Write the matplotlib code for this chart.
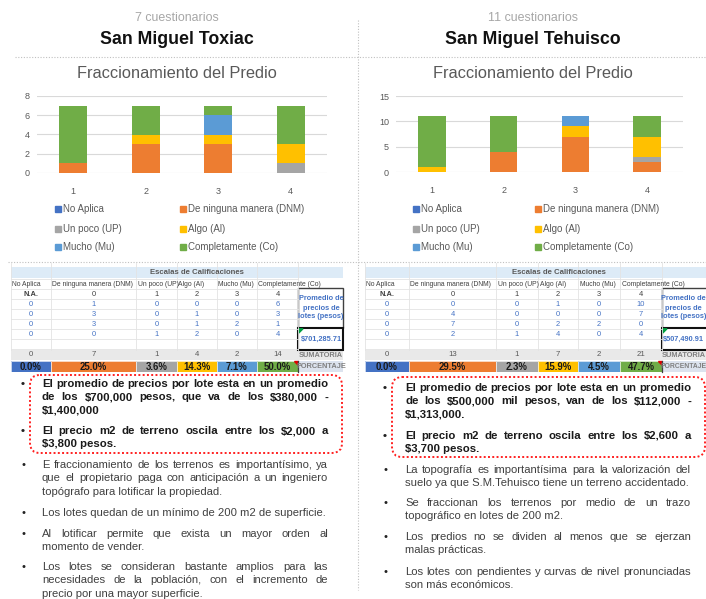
import matplotlib
matplotlib.use('Agg')
import matplotlib.pyplot as plt
from matplotlib.patches import Rectangle, FancyBboxPatch, Polygon
from matplotlib.font_manager import FontProperties
from matplotlib.lines import Line2D

# ---------------- DATA ----------------
questions = ['1', '2', '3', '4']
category_labels = ['No Aplica', 'De ninguna manera (DNM)', 'Un poco (UP)',
                   'Algo (Al)', 'Mucho (Mu)', 'Completamente (Co)']
scale_labels = ['N.A.', '0', '1', '2', '3', '4']
colors = ['#4472C4', '#ED7D31', '#A5A5A5', '#FFC000', '#5B9BD5', '#70AD47']

toxiac_na = [0, 0, 0, 0]
toxiac_dnm = [1, 3, 3, 0]
toxiac_up = [0, 0, 0, 1]
toxiac_al = [0, 1, 1, 2]
toxiac_mu = [0, 0, 2, 0]
toxiac_co = [6, 3, 1, 4]

tehuisco_na = [0, 0, 0, 0]
tehuisco_dnm = [0, 4, 7, 2]
tehuisco_up = [0, 0, 0, 1]
tehuisco_al = [1, 0, 2, 4]
tehuisco_mu = [0, 0, 2, 0]
tehuisco_co = [10, 7, 0, 4]

toxiac_price = '$701,285.71'
tehuisco_price = '$507,490.91'
toxiac_n = '7 cuestionarios'
tehuisco_n = '11 cuestionarios'
toxiac_name = 'San Miguel Toxiac'
tehuisco_name = 'San Miguel Tehuisco'
chart_title = 'Fraccionamiento del Predio'

toxiac_bold = [
    ["El promedio de precios por lote esta en un promedio",
     "de los $700,000 pesos, que va de los $380,000 -",
     "$1,400,000"],
    ["El precio m2 de terreno oscila entre los $2,000 a",
     "$3,800 pesos."],
]
toxiac_normal = [
    ["E fraccionamiento de los terrenos es importantísimo, ya",
     "que el propietario paga con anticipación a un ingeniero",
     "topógrafo para lotificar la propiedad."],
    ["Los lotes quedan de un mínimo de 200 m2 de superficie."],
    ["Al lotificar permite que exista un mayor orden al",
     "momento de vender."],
    ["Los lotes se consideran bastante amplios para las",
     "necesidades de la población, con el incremento de",
     "precio por una mayor superficie."],
]
tehuisco_bold = [
    ["El promedio de precios por lote esta en un promedio",
     "de los $500,000 mil pesos, van de los $112,000 -",
     "$1,313,000."],
    ["El precio m2 de terreno oscila entre los $2,600 a",
     "$3,700 pesos."],
]
tehuisco_normal = [
    ["La topografía es importantísima para la valorización del",
     "suelo ya que S.M.Tehuisco tiene un terreno accidentado."],
    ["Se fraccionan los terrenos por medio de un trazo",
     "topográfico en lotes de 200 m2."],
    ["Los predios no se dividen al menos que se ejerzan",
     "malas prácticas."],
    ["Los lotes con pendientes y curvas de nivel pronunciadas",
     "son más económicos."],
]

# ---------------- FIGURE ----------------
W, H = 706, 599
FONT = 'Liberation Sans'
plt.rcParams['font.family'] = [FONT, 'DejaVu Sans']
fig = plt.figure(figsize=(W / 100, H / 100), dpi=100)
fig.patch.set_facecolor('white')
ov = fig.add_axes([0, 0, 1, 1])
ov.set_xlim(0, W)
ov.set_ylim(H, 0)
ov.axis('off')
renderer = fig.canvas.get_renderer()

GRAY = '#595959'


def T(x, y, s, size, color=GRAY, weight='normal', ha='center', va='center', **kw):
    return ov.text(x, y, s, fontsize=size, color=color, fontweight=weight,
                   ha=ha, va=va, parse_math=False, family=FONT, **kw)


# dotted separators
dots = dict(color='#c0c0c0', lw=0.8, linestyle=(0, (1, 1.5)))
ov.add_line(Line2D([15, 706], [57, 57], **dots))
ov.add_line(Line2D([8, 706], [262, 262], **dots))
ov.add_line(Line2D([358, 358], [20, 590], **dots))


def chart(px0, px1, py0, py1, ymax, ystep, series, cx, n_text, name):
    T(cx, 18, n_text, 8.9, color='#a6a6a6')
    T(cx, 40, name, 12.8, color='#111111', weight='bold')
    T(cx, 74, chart_title, 11.8, color=GRAY)
    ax = fig.add_axes([px0 / W, (H - py1) / H, (px1 - px0) / W, (py1 - py0) / H])
    ax.set_facecolor('none')
    x = list(range(1, len(questions) + 1))
    bottom = [0] * len(questions)
    for vals, c in zip(series, colors):
        ax.bar(x, vals, bottom=bottom, width=0.38, color=c, zorder=3)
        bottom = [b + v for b, v in zip(bottom, vals)]
    ax.set_xlim(0.5, len(questions) + 0.5)
    ax.set_ylim(0, ymax)
    ax.set_yticks(range(0, ymax + 1, ystep))
    ax.set_xticks(x)
    ax.set_xticklabels(questions)
    ax.grid(axis='y', color='#d9d9d9', lw=0.8, zorder=0)
    for s in ax.spines.values():
        s.set_visible(False)
    ax.tick_params(length=0, labelsize=6.5, labelcolor=GRAY)
    ax.tick_params(axis='y', pad=5)
    ax.tick_params(axis='x', pad=10)


def legend(xcol1, xcol2):
    pos = [(xcol1, 209), (xcol2, 209), (xcol1, 228.5), (xcol2, 228.5),
           (xcol1, 247), (xcol2, 247)]
    for (lx, ly), lab, c in zip(pos, category_labels, colors):
        ov.add_patch(Rectangle((lx, ly - 3), 6, 6, color=c))
        T(lx + 8, ly, lab, 7.0, ha='left', color=GRAY)


chart(37, 327, 96, 173, 8, 2,
      [toxiac_na, toxiac_dnm, toxiac_up, toxiac_al, toxiac_mu, toxiac_co],
      177, toxiac_n, toxiac_name)
legend(55, 180)
chart(396, 683, 96, 172, 15, 5,
      [tehuisco_na, tehuisco_dnm, tehuisco_up, tehuisco_al, tehuisco_mu, tehuisco_co],
      533, tehuisco_n, tehuisco_name)
legend(413, 535)


def table(cols, side, series, price, scx, pct_size):
    x0, x1 = cols[0], cols[-1]
    s0, s1 = side
    # header band
    ov.add_patch(Rectangle((x0, 267), s1 - x0, 11, color='#DDEBF7', lw=0))
    T((cols[1] + s1) / 2, 272.5, 'Escalas de Calificaciones', 5.6, weight='bold')
    # grid lines
    for y in [279, 289, 299, 309, 319, 329, 339, 349]:
        ov.add_line(Line2D([x0, x1], [y, y], color='#e3e3e3', lw=0.6))
    for xb in cols:
        ov.add_line(Line2D([xb, xb], [263, 350], color='#e3e3e3', lw=0.6))
    # column headers
    for i, lab in enumerate(category_labels):
        t = T(cols[i] + 1.5, 284, lab, 4.9, color='#404040', ha='left')
        if i < len(category_labels) - 1:
            clip = Rectangle((cols[i], 279), cols[i + 1] - cols[i] - 0.5, 10,
                             transform=ov.transData)
            t.set_clip_path(clip)
    # scale row
    for i, lab in enumerate(scale_labels):
        cxm = (cols[i] + cols[i + 1]) / 2
        T(cxm, 294, lab, 5.4, color='#404040', weight='bold' if i == 0 else 'normal')
    # data rows
    for q in range(len(questions)):
        for i, vals in enumerate(series):
            cxm = (cols[i] + cols[i + 1]) / 2
            T(cxm, 304 + 10 * q, str(vals[q]), 5.4, color='#4472C4')
    # sums
    sums = [sum(v) for v in series]
    total = sum(sums)
    ov.add_patch(Rectangle((x0, 350), s1 - x0, 10, color='#E9E9E9', lw=0))
    for i, sv in enumerate(sums):
        cxm = (cols[i] + cols[i + 1]) / 2
        T(cxm, 355, str(sv), 5.6, color='#595959')
    T(scx, 355.5, 'SUMATORIA', 5.3, color='#7f7f7f', weight='bold')
    # percentages
    for i, sv in enumerate(sums):
        ov.add_patch(Rectangle((cols[i], 360.5), cols[i + 1] - cols[i], 11.5,
                               color=colors[i], lw=0))
        ov.add_patch(Rectangle((cols[i], 360.5), cols[i + 1] - cols[i], 11.5,
                               fc='none', ec='white', lw=0.5))
        T((cols[i] + cols[i + 1]) / 2, 366.5, f'{100 * sv / total:.1f}%', 6.9,
          color='#1a1a1a', weight='bold')
    ov.add_patch(Polygon([(x1 - 4.5, 360.5), (x1, 360.5), (x1, 365)], color='#e00000'))
    ov.add_patch(Rectangle((s0, 360.5), s1 - s0, 11.5, color='#DCE3EE', lw=0))
    ov.add_line(Line2D([s0, s0], [360.5, 372], color='#404040', lw=0.9))
    T(scx, 366.5, 'PORCENTAJE', pct_size, color='#7f7f7f', weight='bold')
    # side boxes
    ov.add_patch(Rectangle((s0, 288), s1 - s0, 40, fc='white', ec='#404040', lw=1.0))
    for k, ln in enumerate(['Promedio de', 'precios de', 'lotes (pesos)']):
        T(scx, 299 + 9 * k, ln, 5.3, color='#4472C4', weight='bold')
    ov.add_patch(Rectangle((s0, 328), s1 - s0, 22, fc='white', ec='#111111', lw=1.5))
    ov.add_patch(Polygon([(s0 + 0.8, 328.8), (s0 + 5, 328.8), (s0 + 0.8, 333)],
                         color='#00A040'))
    T(scx, 339, price, 5.3, color='#4472C4', weight='bold')


table([11, 51, 136, 177, 217, 257, 298], (298, 343),
      [toxiac_na, toxiac_dnm, toxiac_up, toxiac_al, toxiac_mu, toxiac_co],
      toxiac_price, 321, 5.3)
table([365, 409, 496, 538, 578, 620, 662], (662, 708),
      [tehuisco_na, tehuisco_dnm, tehuisco_up, tehuisco_al, tehuisco_mu, tehuisco_co],
      tehuisco_price, 683.5, 4.9)

# ---------------- BULLET TEXT ----------------
fp_b = FontProperties(family=FONT, weight='bold', size=8.2)
fp_n = FontProperties(family=FONT, weight='normal', size=8.1)


def tw(s, fp):
    w, h, d = renderer.get_text_width_height_descent(s, fp, ismath=False)
    return w


def paragraph(lines, y0, x0, x1, bx, fp, color, dy=13.4):
    ov.text(bx, y0, '•', fontproperties=fp, color='#222222', ha='center', va='center')
    for i, line in enumerate(lines):
        y = y0 + i * dy
        words = line.split()
        if i == len(lines) - 1 or len(words) == 1:
            ov.text(x0, y, line, fontproperties=fp, color=color, ha='left',
                    va='center', parse_math=False)
            continue
        widths = [tw(w, fp) for w in words]
        gap = (x1 - x0 - sum(widths)) / (len(words) - 1)
        x = x0
        for w, wd in zip(words, widths):
            ov.text(x, y, w, fontproperties=fp, color=color, ha='left',
                    va='center', parse_math=False)
            x += wd + gap


# left column
for lines, y in zip(toxiac_bold, [384, 431]):
    paragraph(lines, y, 42, 328, 23, fp_b, '#1a1a1a')
for lines, y in zip(toxiac_normal, [465, 513, 534, 567]):
    paragraph(lines, y, 42, 328, 23, fp_n, '#404040')
ov.add_patch(FancyBboxPatch((30, 375), 312, 78, boxstyle='round,pad=0,rounding_size=10',
                            fc='none', ec='#ff2020', lw=1.4, linestyle=(0, (1, 1.2))))

# right column
for lines, y in zip(tehuisco_bold, [388, 436]):
    paragraph(lines, y, 405, 691, 385, fp_b, '#1a1a1a')
for lines, y in zip(tehuisco_normal, [470, 503, 537, 572]):
    paragraph(lines, y, 405, 691, 385, fp_n, '#404040')
ov.add_patch(FancyBboxPatch((392, 377), 313, 80, boxstyle='round,pad=0,rounding_size=10',
                            fc='none', ec='#ff2020', lw=1.4, linestyle=(0, (1, 1.2))))

fig.savefig('out.png', dpi=100, facecolor='white')
